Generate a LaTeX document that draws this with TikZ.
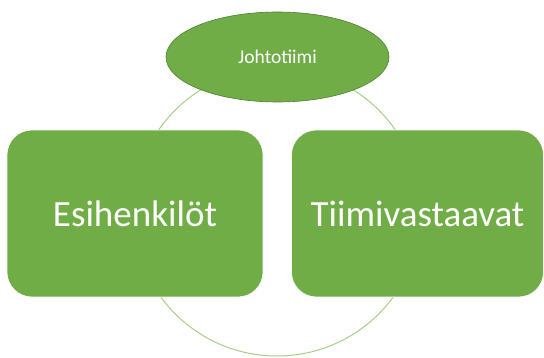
\documentclass[tikz,border=0pt]{standalone}
\usepackage{fontspec}
\setmainfont{Carlito}
\usetikzlibrary{shapes.geometric}
\definecolor{leaf}{HTML}{70AD47}
\definecolor{leafdark}{HTML}{507E32}
\definecolor{leaflight}{HTML}{A3CF88}
\tikzset{
  roleblock/.style={rectangle, rounded corners=25pt, fill=leaf, draw=white, line width=0.6pt,
    minimum width=256pt, minimum height=167pt, text=white, font=\fontsize{37}{40}\selectfont},
  headoval/.style={ellipse, fill=leaf, draw=leafdark, line width=0.6pt,
    minimum width=223pt, minimum height=90pt, text=white, font=\fontsize{19.5}{22}\selectfont},
  ring/.style={circle, draw=leaflight, line width=1pt, minimum size=288pt, inner sep=0pt}
}
\begin{document}
\begin{tikzpicture}[x=1pt, y=-1pt]
  \useasboundingbox (0,0) rectangle (544,358);
  % cycle ring behind the shapes
  \node[ring] (cycle) at (277,212) {};
  % the two role boxes
  \node[roleblock] (esi) at (135,213.5) {Esihenkilöt};
  \node[roleblock, minimum width=252pt] (tiimi) at (417.5,213.5) {Tiimivastaavat};
  % management team on top
  \node[headoval] (johto) at (277.5,57) {Johtotiimi};
\end{tikzpicture}
\end{document}
